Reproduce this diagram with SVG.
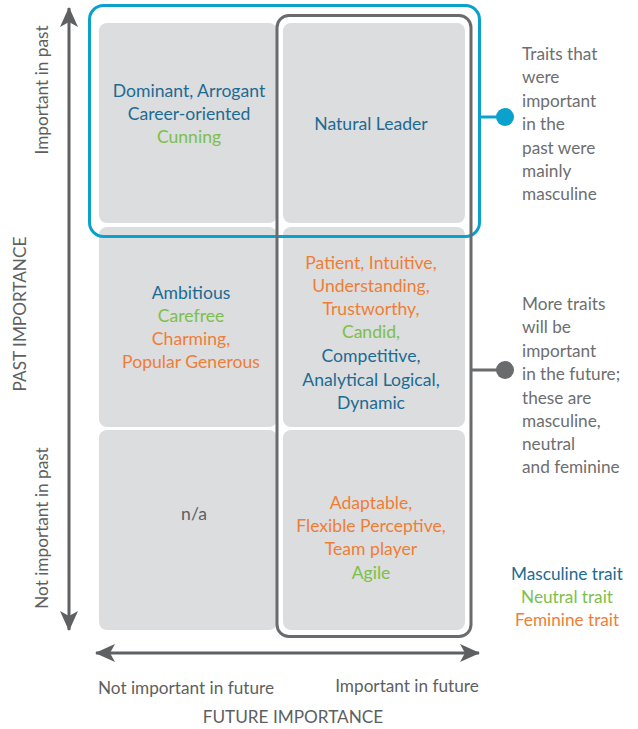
<svg xmlns="http://www.w3.org/2000/svg" width="638" height="729" viewBox="0 0 638 729">
<defs>
<marker id="ah" viewBox="0 0 20 18" refX="19" refY="9" markerWidth="20" markerHeight="18" markerUnits="userSpaceOnUse" orient="auto-start-reverse">
<path d="M0,0 L20,9 L0,18 L5,9 Z" fill="#5f6062"/>
</marker>
<style>
text{font-family:Lato,"Open Sans","Liberation Sans",sans-serif;font-size:17.2px}
.cell{fill:#dcddde}
.c{text-anchor:middle}
.t{font-size:17.6px}
.m{fill:#1c6b93}
.n{fill:#7cbf4a}
.f{fill:#ef7d36}
.g{fill:#5e5f61}
.note{fill:#6d6e70}
.ax{stroke:#5f6062;stroke-width:3;fill:none}
</style>
</defs>
<rect width="638" height="729" fill="#fff"/>
<g id="cell-tl"><rect class="cell" x="99" y="23" width="178" height="200" rx="8"/>
<text class="c t m" x="189" y="97">Dominant, Arrogant</text>
<text class="c t m" x="189" y="120">Career-oriented</text>
<text class="c t n" x="189" y="143">Cunning</text></g>
<g id="cell-tr"><rect class="cell" x="283" y="23" width="182" height="200" rx="8"/>
<text class="c t m" x="371" y="130">Natural Leader</text></g>
<g id="cell-ml"><rect class="cell" x="99" y="227" width="178" height="200" rx="8"/>
<text class="c t m" x="191" y="299">Ambitious</text>
<text class="c t n" x="191" y="322">Carefree</text>
<text class="c t f" x="191" y="345">Charming,</text>
<text class="c t f" x="191" y="368">Popular Generous</text></g>
<g id="cell-mr"><rect class="cell" x="283" y="227" width="182" height="200" rx="8"/>
<text class="c t f" x="371" y="269">Patient, Intuitive,</text>
<text class="c t f" x="371" y="292">Understanding,</text>
<text class="c t f" x="371" y="315">Trustworthy,</text>
<text class="c t n" x="371" y="338">Candid,</text>
<text class="c t m" x="371" y="362">Competitive,</text>
<text class="c t m" x="371" y="386">Analytical Logical,</text>
<text class="c t m" x="371" y="409">Dynamic</text></g>
<g id="cell-bl"><rect class="cell" x="99" y="430" width="178" height="200" rx="8"/>
<text class="c t g" x="194" y="520">n/a</text></g>
<g id="cell-br"><rect class="cell" x="283" y="430" width="182" height="200" rx="8"/>
<text class="c t f" x="371" y="509">Adaptable,</text>
<text class="c t f" x="371" y="532">Flexible Perceptive,</text>
<text class="c t f" x="371" y="555">Team player</text>
<text class="c t n" x="371" y="579">Agile</text></g>
<g id="frame-past"><rect x="89.5" y="5.5" width="390" height="231" rx="14" fill="none" stroke="#0aa2cc" stroke-width="3"/></g>
<g id="frame-future"><rect x="277" y="15.5" width="194" height="621" rx="12" fill="none" stroke="#6a6b6d" stroke-width="3"/></g>
<g id="connectors">
<line x1="481" y1="117" x2="505" y2="117" stroke="#0aa2cc" stroke-width="3"/>
<circle cx="505" cy="117" r="9" fill="#0aa2cc"/>
<line x1="472" y1="370" x2="505" y2="370" stroke="#6a6b6d" stroke-width="3"/>
<circle cx="505" cy="370" r="9" fill="#6a6b6d"/>
<line class="ax" x1="69" y1="8" x2="69" y2="630" marker-start="url(#ah)" marker-end="url(#ah)"/>
<line class="ax" x1="96" y1="653" x2="479" y2="653" marker-start="url(#ah)" marker-end="url(#ah)"/>
</g>
<g id="note-past">
<text class="note" x="522" y="60">Traits that</text>
<text class="note" x="522" y="83">were</text>
<text class="note" x="522" y="107">important</text>
<text class="note" x="522" y="130">in the</text>
<text class="note" x="522" y="154">past were</text>
<text class="note" x="522" y="177">mainly</text>
<text class="note" x="522" y="200">masculine</text>
</g>
<g id="note-future">
<text class="note" x="522" y="310">More traits</text>
<text class="note" x="522" y="333">will be</text>
<text class="note" x="522" y="357">important</text>
<text class="note" x="522" y="380">in the future;</text>
<text class="note" x="522" y="404">these are</text>
<text class="note" x="522" y="427">masculine,</text>
<text class="note" x="522" y="450">neutral</text>
<text class="note" x="522" y="473">and feminine</text>
</g>
<g id="legend">
<text class="c m" x="567" y="580">Masculine trait</text>
<text class="c n" x="567" y="603">Neutral trait</text>
<text class="c f" x="567" y="626">Feminine trait</text>
</g>
<g id="axis-labels" class="g">
<text class="c g" x="186" y="694">Not important in future</text>
<text class="c g" x="407" y="692">Important in future</text>
<text class="c g" x="293" y="723">FUTURE IMPORTANCE</text>
<text class="c g" transform="translate(48,90) rotate(-90)">Important in past</text>
<text class="c g" transform="translate(26,314) rotate(-90)">PAST IMPORTANCE</text>
<text class="c g" transform="translate(48,528) rotate(-90)">Not important in past</text>
</g>
</svg>
